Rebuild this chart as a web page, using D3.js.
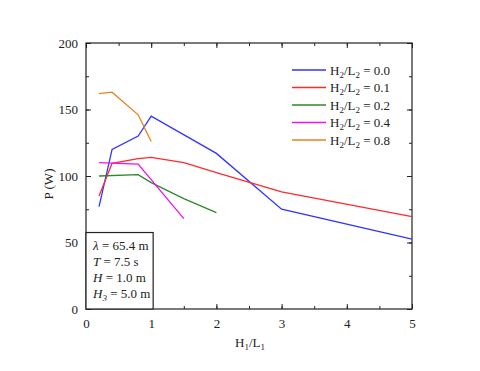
<!DOCTYPE html>
<html>
<head>
<meta charset="utf-8">
<script src="https://d3js.org/d3.v7.min.js"></script>
<style>
  body { margin: 0; background: #fff; }
  svg text { font-family: 'Times New Roman', 'Liberation Serif', Times, serif !important; fill: #222; }
</style>
</head>
<body>
<script>
// H1/L1 values and P (W) for each H2/L2 series
var ratio00 = [[0.2, 77], [0.4, 120], [0.8, 130], [1.0, 145], [2.0, 117], [3.0, 75], [5.0, 52.5]];
var ratio01 = [[0.2, 85], [0.4, 109.5], [0.8, 113], [1.0, 114], [1.5, 110], [2.0, 102.5], [3.0, 88], [5.0, 69.5]];
var ratio02 = [[0.2, 100], [0.8, 101], [1.0, 95], [1.5, 83], [2.0, 72.5]];
var ratio04 = [[0.2, 110], [0.8, 109], [1.5, 68]];
var ratio08 = [[0.2, 162], [0.4, 163], [0.8, 146], [1.0, 126]];

var seriesNames = ["0.0", "0.1", "0.2", "0.4", "0.8"];
var seriesColors = ["#3333ff", "#ff2a2a", "#2a8a2a", "#ee11ee", "#e8821e"];
var seriesData = [ratio00, ratio01, ratio02, ratio04, ratio08];

var xTicks = [0, 1, 2, 3, 4, 5];
var yTicks = [0, 50, 100, 150, 200];
var notes = [
  {sym: "λ", sub: "", rest: " = 65.4 m"},
  {sym: "T", sub: "", rest: " = 7.5 s"},
  {sym: "H", sub: "", rest: " = 1.0 m"},
  {sym: "H", sub: "3", rest: " = 5.0 m"}
];

var W = 480, H = 371;
var m = {left: 86, right: 68, top: 43, bottom: 62};

var svg = d3.select("body").append("svg")
    .attr("width", W)
    .attr("height", H);

var x = d3.scaleLinear().domain([0, 5]).range([m.left, W - m.right]);
var y = d3.scaleLinear().domain([0, 200]).range([H - m.bottom, m.top]);

var minorX = d3.range(0, 5.01, 0.5);
var minorY = d3.range(0, 200.1, 25);

function styleAxis(g) {
  g.attr("font-family", null);
  g.select(".domain").remove();
  g.selectAll("line").attr("stroke", "#222");
  g.selectAll("text").style("font-size", "13px");
}

// minor ticks
svg.append("g").attr("transform", "translate(0," + y(0) + ")")
  .call(d3.axisBottom(x).tickValues(minorX).tickSize(-3).tickFormat(""))
  .call(styleAxis);
svg.append("g").attr("transform", "translate(0," + y(200) + ")")
  .call(d3.axisTop(x).tickValues(minorX).tickSize(-3).tickFormat(""))
  .call(styleAxis);
svg.append("g").attr("transform", "translate(" + x(0) + ",0)")
  .call(d3.axisLeft(y).tickValues(minorY).tickSize(-3).tickFormat(""))
  .call(styleAxis);
svg.append("g").attr("transform", "translate(" + x(5) + ",0)")
  .call(d3.axisRight(y).tickValues(minorY).tickSize(-3).tickFormat(""))
  .call(styleAxis);

// major ticks
svg.append("g").attr("transform", "translate(0," + y(0) + ")")
  .call(d3.axisBottom(x).tickValues(xTicks).tickSize(-5).tickPadding(10).tickFormat(d3.format("d")))
  .call(styleAxis);
svg.append("g").attr("transform", "translate(0," + y(200) + ")")
  .call(d3.axisTop(x).tickValues(xTicks).tickSize(-5).tickFormat(""))
  .call(styleAxis);
svg.append("g").attr("transform", "translate(" + x(0) + ",0)")
  .call(d3.axisLeft(y).tickValues(yTicks).tickSize(-5).tickPadding(8).tickFormat(d3.format("d")))
  .call(styleAxis);
svg.append("g").attr("transform", "translate(" + x(5) + ",0)")
  .call(d3.axisRight(y).tickValues(yTicks).tickSize(-5).tickFormat(""))
  .call(styleAxis);

// frame
svg.append("rect")
  .attr("x", x(0)).attr("y", y(200))
  .attr("width", x(5) - x(0)).attr("height", y(0) - y(200))
  .attr("fill", "none").attr("stroke", "#222").attr("stroke-width", 1.2);

var line = d3.line().x(function(d){ return x(d[0]) }).y(function(d){ return y(d[1]) });

seriesData.forEach(function(d, i){
  svg.append("path")
    .datum(d)
    .attr("d", line)
    .attr("fill", "none")
    .attr("stroke", seriesColors[i])
    .attr("stroke-width", 1.3);
});

// legend
var leg = svg.append("g").attr("transform", "translate(292,70)");
seriesNames.forEach(function(n, i){
  var row = leg.append("g").attr("transform", "translate(0," + (i * 17.5) + ")");
  row.append("line").attr("x1", 0).attr("x2", 34).attr("y1", 0).attr("y2", 0)
    .attr("stroke", seriesColors[i]).attr("stroke-width", 1.3);
  var t = row.append("text").attr("x", 38).attr("y", 4.5).style("font-size", "13px");
  t.append("tspan").text("H");
  t.append("tspan").attr("dy", 3).style("font-size", "9px").text("2");
  t.append("tspan").attr("dy", -3).text("/L");
  t.append("tspan").attr("dy", 3).style("font-size", "9px").text("2");
  t.append("tspan").attr("dy", -3).text(" = " + n);
});

// parameter box
svg.append("rect")
  .attr("x", x(0)).attr("y", y(57.5))
  .attr("width", x(1.03) - x(0)).attr("height", y(0) - y(57.5))
  .attr("fill", "#fff").attr("stroke", "#222").attr("stroke-width", 1.2);

notes.forEach(function(n, i){
  var t = svg.append("text").attr("x", x(0) + 7).attr("y", 250 + i * 16).style("font-size", "13px");
  t.append("tspan").style("font-style", "italic").text(n.sym);
  if (n.sub) {
    t.append("tspan").attr("dy", 3).style("font-size", "9px").style("font-style", "italic").text(n.sub);
    t.append("tspan").attr("dy", -3).text(n.rest);
  } else {
    t.append("tspan").text(n.rest);
  }
});

// axis titles
var xt = svg.append("text").attr("x", 250).attr("y", 347).attr("text-anchor", "middle").style("font-size", "13px");
xt.append("tspan").text("H");
xt.append("tspan").attr("dy", 3).style("font-size", "9px").text("1");
xt.append("tspan").attr("dy", -3).text("/L");
xt.append("tspan").attr("dy", 3).style("font-size", "9px").text("1");

svg.append("text")
  .attr("transform", "translate(53,184) rotate(-90)")
  .attr("text-anchor", "middle")
  .style("font-size", "13px")
  .text("P (W)");
</script>
</body>
</html>
